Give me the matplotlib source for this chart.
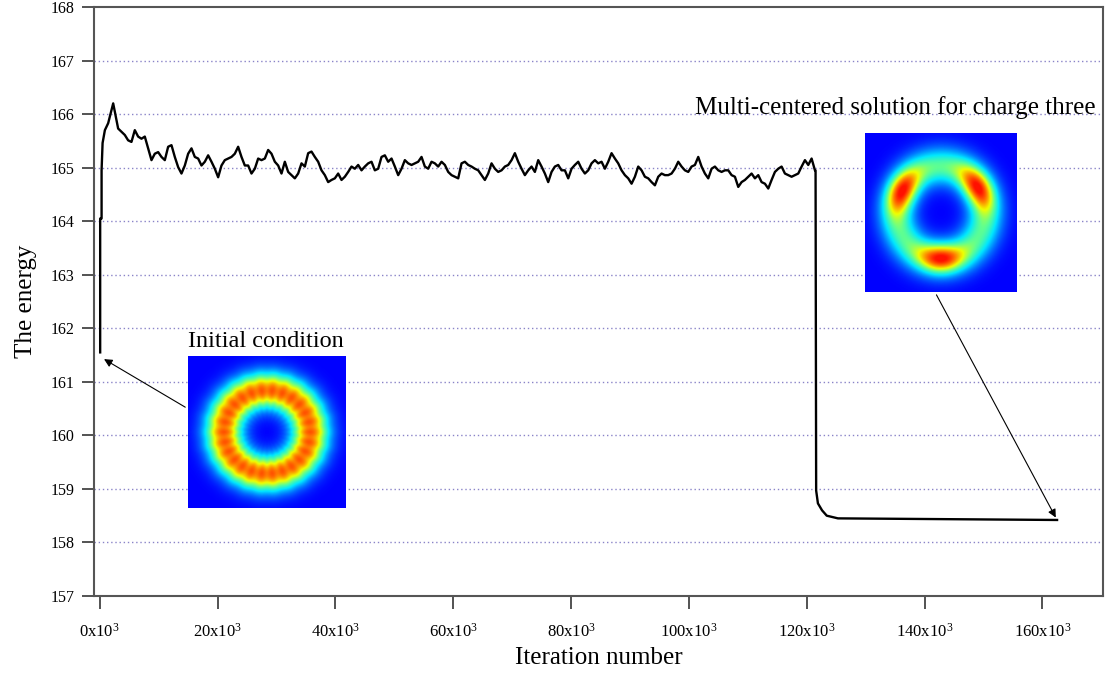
# coding: utf-8

# Imports
import matplotlib
matplotlib.use("Agg")
import matplotlib.pyplot as plt
from matplotlib.colors import LinearSegmentedColormap
import numpy as np

plt.rcParams['font.family'] = ['Liberation Serif', 'DejaVu Serif']
plt.rcParams['mathtext.fontset'] = 'custom'
plt.rcParams['mathtext.rm'] = 'Liberation Serif'
plt.rcParams['mathtext.default'] = 'regular'

# Data (iterations in units of 10^3, energy)
start_k = [0.05, 0.05, 0.29, 0.29, 0.46, 0.85, 1.41, 2.26]
start_energy = [161.55, 164.05, 164.05, 164.95, 165.46, 165.70, 165.83, 166.20]

# relaxation phase, sampled every step_k thousand iterations from first_k
first_k = 3.1
step_k = 0.566
noisy_energy = [
    165.73, 165.67, 165.61, 165.51, 165.48, 165.70, 165.58, 165.54, 165.58, 165.36,
    165.14, 165.26, 165.29, 165.20, 165.14, 165.39, 165.42, 165.20, 165.01, 164.89,
    165.04, 165.26, 165.36, 165.20, 165.17, 165.04, 165.11, 165.23, 165.11, 164.98,
    164.82, 165.04, 165.14, 165.17, 165.20, 165.26, 165.39, 165.20, 165.04, 165.04,
    164.89, 164.98, 165.17, 165.14, 165.17, 165.33, 165.26, 165.11, 165.04, 164.89,
    # 31k - 61k
    165.11, 164.92, 164.86, 164.80, 164.89, 165.08, 165.02, 165.27, 165.30, 165.20,
    165.11, 164.95, 164.86, 164.73, 164.77, 164.80, 164.89, 164.77, 164.83, 164.92,
    165.02, 164.98, 165.05, 164.95, 165.02, 165.08, 165.11, 164.95, 164.98, 165.20,
    165.23, 165.11, 165.17, 165.02, 164.86, 164.98, 165.14, 165.08, 165.05, 165.08,
    165.11, 165.20, 165.02, 164.98, 165.11, 165.08, 165.02, 165.11, 165.05, 164.92,
    164.86, 164.83, 164.80,
    # 61k - 91k
    165.08, 165.11, 165.05, 165.02, 164.98, 164.95, 164.86, 164.77, 164.89, 165.08,
    164.98, 164.92, 164.95, 165.02, 165.05, 165.14, 165.27, 165.11, 164.98, 164.86,
    164.95, 165.02, 164.92, 165.14, 165.02, 164.89, 164.73, 164.92, 165.02, 165.05,
    164.95, 164.95, 164.80, 164.98, 165.05, 165.11, 164.98, 164.89, 164.95, 165.08,
    165.14, 165.08, 165.11, 164.98, 165.11, 165.27, 165.17, 165.08, 164.95, 164.86,
    164.80, 164.70, 164.83, 165.02,
    # 92k - 121k
    164.95, 164.83, 164.80, 164.73, 164.67, 164.83, 164.89, 164.86, 164.86, 164.89,
    164.98, 165.11, 165.02, 164.95, 164.92, 165.02, 165.05, 165.20, 165.02, 164.89,
    164.80, 164.98, 165.02, 164.95, 164.92, 164.95, 164.95, 164.86, 164.83, 164.64,
    164.73, 164.77, 164.83, 164.89, 164.80, 164.86, 164.73, 164.70, 164.61, 164.77,
    164.92, 164.98, 165.02, 164.89, 164.86, 164.83, 164.86, 164.89, 165.02, 165.14,
    165.05, 165.17, 164.95,
]

drop_k = [121.5, 121.6, 121.6, 121.9, 122.6, 123.4, 125.3, 162.5]
drop_energy = [164.95, 159.40, 158.97, 158.73, 158.60, 158.50, 158.45, 158.42]

x_ticks = [0, 20, 40, 60, 80, 100, 120, 140, 160]
y_ticks = [157, 158, 159, 160, 161, 162, 163, 164, 165, 166, 167, 168]

noisy_k = first_k + step_k * np.arange(len(noisy_energy))
iteration_k = np.concatenate([start_k, noisy_k, drop_k])
energy = np.concatenate([start_energy, noisy_energy, drop_energy])

# Density pictures for the two insets
grid = np.linspace(-1.0, 1.0, 160)
gx, gy = np.meshgrid(grid, grid)
rr = np.hypot(gx, gy)
theta = np.arctan2(gy, gx)

ring_initial = 0.9 * np.exp(-((rr - 0.55) / 0.24) ** 2) * (0.97 + 0.03 * np.cos(26 * theta))

ring_multi = 0.48 * np.exp(-((rr - 0.58) / 0.24) ** 2)
for lobe_angle in [np.deg2rad(152), np.deg2rad(33), np.deg2rad(270)]:
    dtheta = np.angle(np.exp(1j * (theta - lobe_angle)))
    ring_multi = ring_multi + 0.55 * np.exp(-((rr - 0.58) / 0.17) ** 2) * np.exp(-(dtheta / 0.5) ** 2)
ring_multi = np.clip(ring_multi, 0, 1)

jetlike = LinearSegmentedColormap.from_list(
    'jetlike', ['#0000ff', '#0070ff', '#00e8ff', '#60ff90', '#f0ff00', '#ff8000', '#ff1000'])

# Plot
fig = plt.figure(figsize=(11.07, 6.73), dpi=100, facecolor='white')
ax = fig.add_axes([0.0849, 0.1144, 0.9115, 0.8752])

ax.plot(iteration_k, energy, color='black', lw=1.7, zorder=3)

ax.imshow(ring_initial, cmap=jetlike, vmin=0, vmax=1, extent=[14.9, 41.6, 158.64, 161.46],
          aspect='auto', origin='lower', zorder=2, interpolation='bilinear')
ax.imshow(ring_multi, cmap=jetlike, vmin=0, vmax=1, extent=[129.9, 155.7, 162.67, 165.63],
          aspect='auto', origin='lower', zorder=2, interpolation='bilinear')

ax.text(15.0, 161.55, "Initial condition", fontsize=17.5, ha='left', va='bottom')
ax.text(169.0, 165.9, "Multi-centered solution for charge three", fontsize=18,
        ha='right', va='bottom')

ax.annotate("", xy=(0.3, 161.45), xytext=(14.9, 160.5),
            arrowprops=dict(arrowstyle='-|>', color='black', lw=0.8, mutation_scale=12))
ax.annotate("", xy=(162.5, 158.42), xytext=(141.8, 162.67),
            arrowprops=dict(arrowstyle='-|>', color='black', lw=0.8, mutation_scale=12))

ax.set_xlim(-1.0, 170.3)
ax.set_ylim(157, 168)
ax.set_xticks(x_ticks)
ax.set_xticklabels(["{}x10$^3$".format(v) for v in x_ticks], fontsize=12)
ax.set_yticks(y_ticks)
ax.set_yticklabels([str(v) for v in y_ticks], fontsize=11.5)
ax.tick_params(axis='both', direction='out', length=9, width=1.3, color='#444444')
ax.tick_params(axis='x', pad=10)
ax.tick_params(axis='y', pad=5)

for yv in y_ticks[1:-1]:
    ax.axhline(yv, color='#8a84c8', lw=1.0, ls=(0, (1, 2)), zorder=1)
for side in ['left', 'right', 'top', 'bottom']:
    ax.spines[side].set_color('#555555')
    ax.spines[side].set_linewidth(1.5)

ax.set_ylabel("The energy", fontsize=18, labelpad=10)
ax.set_xlabel("Iteration number", fontsize=18, labelpad=5)

plt.savefig("out.png", dpi=100)
